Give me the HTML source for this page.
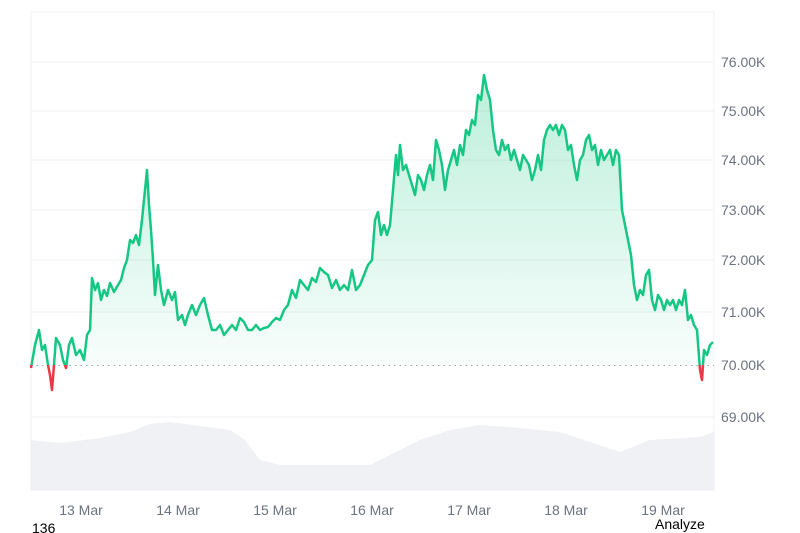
<!DOCTYPE html>
<html><head><meta charset="utf-8"><style>
body{margin:0;width:800px;height:533px;background:#fff;overflow:hidden;font-family:"Liberation Sans",sans-serif}
svg{position:absolute;left:0;top:0}
.yl{font-size:14px;fill:#6b7280}
.xl{font-size:14px;fill:#6b7280;text-anchor:middle}
</style></head><body>
<svg width="800" height="533">
<defs>
<linearGradient id="g" x1="0" y1="60" x2="0" y2="365" gradientUnits="userSpaceOnUse">
<stop offset="0" stop-color="#16c784" stop-opacity="0.3"/>
<stop offset="1" stop-color="#16c784" stop-opacity="0.03"/>
</linearGradient>
<clipPath id="above"><rect x="0" y="0" width="800" height="365"/></clipPath>
<clipPath id="below"><rect x="0" y="365" width="800" height="200"/></clipPath>
</defs>
<rect x="31" y="12" width="683" height="478" fill="none" stroke="#eef0f3"/>
<g stroke="#eef0f3">
<line x1="31" x2="714" y1="62" y2="62"/><line x1="31" x2="714" y1="111" y2="111"/>
<line x1="31" x2="714" y1="160" y2="160"/><line x1="31" x2="714" y1="210" y2="210"/>
<line x1="31" x2="714" y1="260" y2="260"/><line x1="31" x2="714" y1="312" y2="312"/>
<line x1="31" x2="714" y1="417" y2="417"/>
</g>
<path d="M31,440 L60,443 L100,438 L130,432 L150,424 L170,422 L200,426 L230,430 L245,440 L260,460 L280,465 L370,465 L390,455 L420,440 L450,430 L480,425 L520,428 L560,432 L590,442 L620,452 L650,440 L700,437 L714,432 L714,490 L31,490 Z" fill="#eff1f4"/>
<g id="price">
<path id="fillp" clip-path="url(#above)" fill="url(#g)" d="M31,365 L31,368 L35,345 L39,330 L42,350 L45,345 L48,365 L50,375 L52,390 L54,365 L56,338 L60,345 L63,360 L66,368 L69,345 L72,338 L76,355 L80,350 L84,360 L87,335 L90,330 L92,278 L95,290 L98,283 L101,300 L104,290 L107,296 L110,283 L114,292 L118,285 L121,280 L124,268 L127,260 L130,240 L133,243 L136,235 L139,245 L142,220 L145,190 L147,170 L149,205 L151,230 L153,260 L155,295 L158,265 L161,290 L164,305 L168,290 L172,300 L175,292 L178,320 L182,315 L185,325 L188,315 L192,305 L196,315 L200,305 L204,298 L208,315 L212,330 L216,330 L220,325 L224,335 L228,330 L232,325 L236,330 L240,318 L244,322 L248,330 L252,330 L256,325 L260,330 L264,328 L268,327 L272,322 L276,318 L280,320 L284,310 L288,305 L292,290 L296,298 L300,280 L304,285 L308,290 L312,278 L316,282 L320,268 L324,272 L328,275 L332,288 L336,280 L340,290 L344,285 L348,290 L352,270 L356,290 L360,285 L364,275 L368,265 L372,260 L375,220 L378,212 L381,235 L384,225 L387,235 L390,225 L393,190 L396,155 L398,175 L400,145 L403,170 L406,165 L409,175 L412,185 L415,195 L418,175 L421,180 L424,190 L427,175 L430,165 L433,180 L436,140 L439,150 L442,165 L445,190 L448,170 L451,160 L454,150 L457,165 L460,145 L463,155 L466,130 L469,135 L472,120 L475,125 L478,95 L481,100 L484,75 L487,90 L490,100 L493,130 L496,150 L499,155 L502,140 L505,150 L508,145 L511,160 L514,150 L517,160 L520,170 L523,155 L526,160 L529,165 L532,180 L535,170 L538,155 L541,170 L544,140 L547,130 L550,125 L553,130 L556,125 L559,135 L562,125 L565,130 L568,150 L571,145 L574,165 L577,180 L580,160 L583,155 L586,140 L589,135 L592,150 L595,145 L598,165 L601,150 L604,160 L607,155 L610,150 L613,165 L616,150 L619,155 L622,210 L625,225 L628,240 L631,255 L634,285 L637,300 L640,290 L643,295 L646,275 L649,270 L652,300 L655,310 L658,295 L661,300 L664,310 L667,300 L670,305 L673,300 L676,310 L679,300 L682,305 L685,290 L688,320 L691,315 L694,325 L697,330 L700,370 L702,380 L704,350 L707,355 L710,345 L713,342 L713,365 Z"/>
</g>
<line x1="31" x2="714" y1="365.5" y2="365.5" stroke="#9aa0a6" stroke-dasharray="1.5,4"/>
<path id="ln" fill="none" stroke-width="2.5" stroke-linejoin="round" d="M31,368 L35,345 L39,330 L42,350 L45,345 L48,365 L50,375 L52,390 L54,365 L56,338 L60,345 L63,360 L66,368 L69,345 L72,338 L76,355 L80,350 L84,360 L87,335 L90,330 L92,278 L95,290 L98,283 L101,300 L104,290 L107,296 L110,283 L114,292 L118,285 L121,280 L124,268 L127,260 L130,240 L133,243 L136,235 L139,245 L142,220 L145,190 L147,170 L149,205 L151,230 L153,260 L155,295 L158,265 L161,290 L164,305 L168,290 L172,300 L175,292 L178,320 L182,315 L185,325 L188,315 L192,305 L196,315 L200,305 L204,298 L208,315 L212,330 L216,330 L220,325 L224,335 L228,330 L232,325 L236,330 L240,318 L244,322 L248,330 L252,330 L256,325 L260,330 L264,328 L268,327 L272,322 L276,318 L280,320 L284,310 L288,305 L292,290 L296,298 L300,280 L304,285 L308,290 L312,278 L316,282 L320,268 L324,272 L328,275 L332,288 L336,280 L340,290 L344,285 L348,290 L352,270 L356,290 L360,285 L364,275 L368,265 L372,260 L375,220 L378,212 L381,235 L384,225 L387,235 L390,225 L393,190 L396,155 L398,175 L400,145 L403,170 L406,165 L409,175 L412,185 L415,195 L418,175 L421,180 L424,190 L427,175 L430,165 L433,180 L436,140 L439,150 L442,165 L445,190 L448,170 L451,160 L454,150 L457,165 L460,145 L463,155 L466,130 L469,135 L472,120 L475,125 L478,95 L481,100 L484,75 L487,90 L490,100 L493,130 L496,150 L499,155 L502,140 L505,150 L508,145 L511,160 L514,150 L517,160 L520,170 L523,155 L526,160 L529,165 L532,180 L535,170 L538,155 L541,170 L544,140 L547,130 L550,125 L553,130 L556,125 L559,135 L562,125 L565,130 L568,150 L571,145 L574,165 L577,180 L580,160 L583,155 L586,140 L589,135 L592,150 L595,145 L598,165 L601,150 L604,160 L607,155 L610,150 L613,165 L616,150 L619,155 L622,210 L625,225 L628,240 L631,255 L634,285 L637,300 L640,290 L643,295 L646,275 L649,270 L652,300 L655,310 L658,295 L661,300 L664,310 L667,300 L670,305 L673,300 L676,310 L679,300 L682,305 L685,290 L688,320 L691,315 L694,325 L697,330 L700,370 L702,380 L704,350 L707,355 L710,345 L713,342"/>
<use href="#ln" stroke="#16c784" clip-path="url(#above)"/>
<use href="#ln" stroke="#ea3943" clip-path="url(#below)"/>
<text class="yl" x="721" y="67">76.00K</text>
<text class="yl" x="721" y="116">75.00K</text>
<text class="yl" x="721" y="165">74.00K</text>
<text class="yl" x="721" y="215">73.00K</text>
<text class="yl" x="721" y="265">72.00K</text>
<text class="yl" x="721" y="317">71.00K</text>
<text class="yl" x="721" y="370">70.00K</text>
<text class="yl" x="721" y="422">69.00K</text>
<text class="xl" x="81" y="515">13 Mar</text>
<text class="xl" x="178" y="515">14 Mar</text>
<text class="xl" x="275" y="515">15 Mar</text>
<text class="xl" x="372" y="515">16 Mar</text>
<text class="xl" x="469" y="515">17 Mar</text>
<text class="xl" x="566" y="515">18 Mar</text>
<text class="xl" x="663" y="515">19 Mar</text>
<text x="32" y="533" font-size="14" fill="#000">136</text>
<text x="655" y="529" font-size="14" fill="#000">Analyze</text>
</svg>
</body></html>
